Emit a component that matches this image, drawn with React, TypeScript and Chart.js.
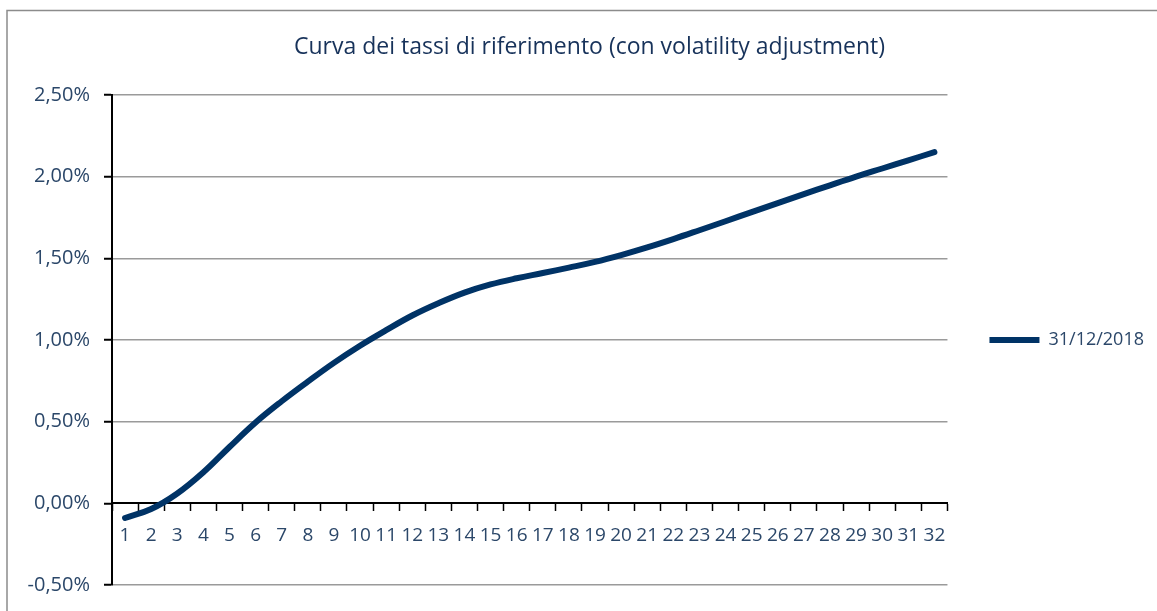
import React, { useEffect, useRef } from 'react';
import { Chart, registerables } from 'chart.js';

Chart.register(...registerables);

const titleText = 'Curva dei tassi di riferimento (con volatility adjustment)';
const seriesLabel = '31/12/2018';
const categories = [
  '1', '2', '3', '4', '5', '6', '7', '8', '9', '10', '11', '12', '13', '14', '15', '16',
  '17', '18', '19', '20', '21', '22', '23', '24', '25', '26', '27', '28', '29', '30', '31', '32',
];
const rates2018 = [
  -0.09, -0.035, 0.06, 0.19, 0.345, 0.495, 0.625, 0.745, 0.86, 0.965, 1.06, 1.15, 1.225, 1.29, 1.34, 1.378,
  1.41, 1.443, 1.478, 1.52, 1.567, 1.618, 1.672, 1.727, 1.783, 1.838, 1.893, 1.947, 2.0, 2.05, 2.1, 2.15,
];
const yTickValues = [-0.5, 0, 0.5, 1.0, 1.5, 2.0, 2.5];

const LINE_COLOR = '#003366';
const TEXT_COLOR = '#2b4769';
const TITLE_COLOR = '#17325a';
const GRID_COLOR = '#9a9a9a';

const frameBorder = {
  id: 'frameBorder',
  beforeDraw(chart: any) {
    const ctx = chart.ctx;
    ctx.save();
    ctx.strokeStyle = '#8c8c8c';
    ctx.lineWidth = 1.5;
    ctx.strokeRect(7, 10.5, chart.width + 50, chart.height + 50);
    ctx.restore();
  },
};

export default function App() {
  const canvasRef = useRef<HTMLCanvasElement | null>(null);

  useEffect(() => {
    if (!canvasRef.current) return;
    const chart = new Chart(canvasRef.current, {
      type: 'line',
      data: {
        labels: categories,
        datasets: [
          {
            label: seriesLabel,
            data: rates2018,
            borderColor: LINE_COLOR,
            backgroundColor: LINE_COLOR,
            borderWidth: 6,
            borderCapStyle: 'round',
            borderJoinStyle: 'round',
            pointRadius: 0,
            pointHoverRadius: 0,
            tension: 0.4,
            fill: false,
          },
        ],
      },
      options: {
        responsive: false,
        animation: false,
        devicePixelRatio: 1,
        layout: { padding: { left: 25, right: 3, top: 0, bottom: 23 } },
        plugins: {
          title: {
            display: true,
            text: titleText,
            color: TITLE_COLOR,
            font: { family: '"Open Sans", sans-serif', size: 23, weight: 'normal', lineHeight: 1.2 },
            padding: { top: 34, bottom: 33.4 },
          },
          legend: {
            display: true,
            position: 'right',
            fullSize: false,
            labels: {
              color: TEXT_COLOR,
              font: { family: '"Open Sans", sans-serif', size: 18 },
              usePointStyle: true,
              pointStyle: 'line',
              pointStyleWidth: 50,
              boxHeight: 5,
              padding: 10,
            },
          },
          tooltip: { enabled: false },
        },
        scales: {
          x: {
            type: 'category',
            position: { y: 0 } as any,
            offset: true,
            grid: {
              display: true,
              drawOnChartArea: false,
              drawTicks: true,
              offset: true,
              tickLength: 7,
              tickColor: '#000000',
              tickWidth: 1.5,
            },
            border: { display: true, color: '#000000', width: 2 },
            ticks: {
              color: TEXT_COLOR,
              font: { family: '"Open Sans", sans-serif', size: 19 },
              padding: 14,
              maxRotation: 0,
              autoSkip: false,
            },
          },
          y: {
            type: 'linear',
            position: 'left',
            min: yTickValues[0],
            max: yTickValues[yTickValues.length - 1],
            afterBuildTicks(scale: any) {
              scale.ticks = yTickValues.map((v) => ({ value: v }));
            },
            afterFit(scale: any) {
              scale.width = 87;
            },
            grid: {
              color: (ctx: any) => (ctx.tick && ctx.tick.value === 0 ? 'rgba(0,0,0,0)' : GRID_COLOR),
              lineWidth: 1.5,
              tickColor: '#000000',
              tickLength: 8,
              tickWidth: 2,
            },
            border: { display: true, color: '#000000', width: 2 },
            ticks: {
              color: TEXT_COLOR,
              font: { family: '"Open Sans", sans-serif', size: 20 },
              padding: 14,
              callback: (v: any) => Number(v).toFixed(2).replace('.', ',') + '%',
            },
          },
          yPad: {
            type: 'linear',
            position: 'right',
            display: true,
            grid: { display: false, drawTicks: false },
            border: { display: false },
            ticks: { display: false },
            afterFit(scale: any) {
              scale.width = 32;
            },
          },
        },
      },
      plugins: [frameBorder],
    } as any);
    return () => chart.destroy();
  }, []);

  return (
    <div style={{ position: 'fixed', left: 0, top: 0, width: 1157, height: 611, background: '#ffffff' }}>
      <canvas ref={canvasRef} width={1157} height={611} style={{ display: 'block' }} />
    </div>
  );
}
